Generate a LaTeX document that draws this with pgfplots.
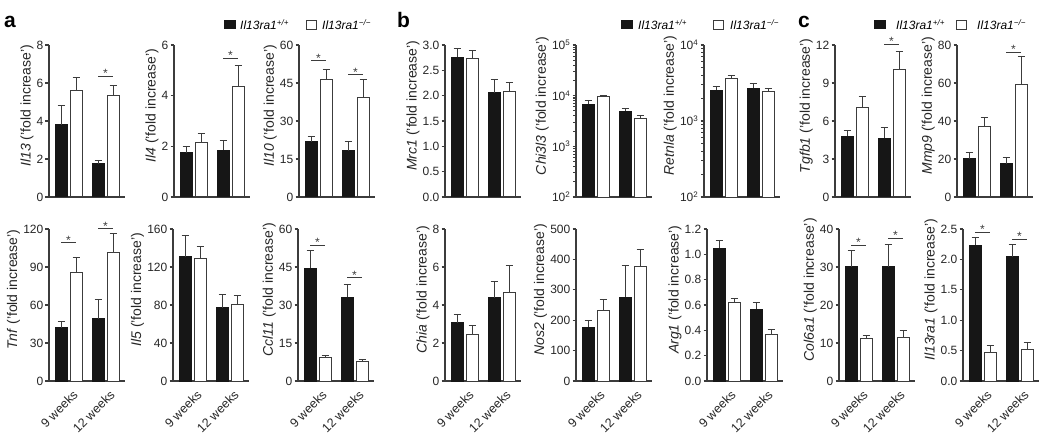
\documentclass[border=0pt]{standalone}
\usepackage{fontspec}
\setmainfont{Liberation Sans}
\usepackage{pgfplots}
\pgfplotsset{compat=1.18}
\definecolor{axgray}{HTML}{3C3C3C}
\definecolor{barblack}{HTML}{161616}
\newcommand{\tk}{\fontsize{12}{14}\selectfont}
\newcommand{\lb}{\fontsize{14}{16}\selectfont}
\pgfplotsset{
  panel/.style={
    scale only axis, width=76pt, height=152pt,
    xmin=0, xmax=76, ymin=0,
    anchor=south west,
    axis x line*=bottom, axis y line*=left,
    axis line style={draw=axgray, line width=1.1pt},
    tick style={draw=axgray, line width=1.1pt},
    tick align=outside, major tick length=3.5pt,
    xtick=\empty, clip=false,
    tick label style={font=\tk, text=black!85},
    /pgf/number format/assume math mode=true,
    yticklabel style={inner xsep=2pt},
    ylabel style={font=\lb, text=black!85, at={(ticklabel cs:0.6)}, inner sep=1pt},
  },
  weeks/.style={xtick={19.5,56.5}, xticklabels={9 weeks,12 weeks},
    x tick label style={rotate=45, anchor=north east, font=\fontsize{12.5}{14}\selectfont, inner sep=1pt, yshift=-5pt},
    xtick style={draw=none}},
  dec/.style={yticklabel style={/pgf/number format/.cd, fixed, fixed zerofill, precision=1}},
  bars/.style={ybar, bar width=12, bar shift=0pt, line width=1pt,
    error bars/y dir=plus, error bars/y explicit,
    error bars/error bar style={line width=1pt, draw=axgray},
    error bars/error mark options={rotate=90, line width=1pt, mark size=3.5pt, draw=axgray}},
  wt/.style={bars, fill=barblack, draw=barblack},
  ko/.style={bars, fill=white, draw=axgray},
}
\newcommand{\sig}[3]{\draw[line width=1pt, axgray] (axis cs:#1,#3) -- (axis cs:#2,#3) node[midway, above, inner sep=0pt, yshift=-2pt, font=\tk] {*};}
\newcommand{\sigA}[1]{\sig{12}{27}{#1}}
\newcommand{\sigB}[1]{\sig{49}{64}{#1}}
\newcommand{\fold}{ ('fold increase')}
\begin{document}
\begin{tikzpicture}
\path[use as bounding box] (0,0) rectangle (1050pt,-438pt);
% panel letters
\node[anchor=base west, inner sep=0pt, font=\fontsize{21}{24}\selectfont\bfseries] at (4pt,-28pt) {a};
\node[anchor=base west, inner sep=0pt, font=\fontsize{21}{24}\selectfont\bfseries] at (397pt,-28pt) {b};
\node[anchor=base west, inner sep=0pt, font=\fontsize{21}{24}\selectfont\bfseries] at (798pt,-28pt) {c};
% legends
\newcommand{\legpair}[4]{%
  \fill[barblack] (#1pt,-20pt) rectangle ++(11.5pt,-9.5pt);
  \node[anchor=base west, inner sep=0pt, font=\tk] at (#2pt,-30pt) {\textit{Il13ra1\textsuperscript{+/+}}};
  \draw[axgray, line width=1pt] (#3pt,-20.5pt) rectangle ++(10.5pt,-9pt);
  \node[anchor=base west, inner sep=0pt, font=\tk] at (#4pt,-30pt) {\textit{Il13ra1\textsuperscript{−/−}}};}
\legpair{224}{240}{306}{322}
\legpair{621}{638}{713}{730}
\legpair{874}{896}{956}{977}

% ===== Row 1 =====
\begin{axis}[panel, at={(49pt,-197pt)}, ymax=8, ytick={0,2,4,6,8}, ylabel={\textit{Il13}\fold}]
\addplot[wt] coordinates {(12,3.81) +- (0,1.02) (49,1.76) +- (0,0.17)};
\addplot[ko] coordinates {(27,5.62) +- (0,0.67) (64,5.33) +- (0,0.52)};
\sigB{6.36}
\end{axis}
\begin{axis}[panel, at={(174pt,-197pt)}, ymax=6, ytick={0,2,4,6}, ylabel={\textit{Il4}\fold}]
\addplot[wt] coordinates {(12,1.74) +- (0,0.26) (49,1.85) +- (0,0.37)};
\addplot[ko] coordinates {(27,2.16) +- (0,0.34) (64,4.38) +- (0,0.80)};
\sigB{5.47}
\end{axis}
\begin{axis}[panel, at={(299pt,-197pt)}, ymax=60, ytick={0,15,30,45,60}, ylabel={\textit{Il10}\fold}]
\addplot[wt] coordinates {(12,21.9) +- (0,1.8) (49,18.2) +- (0,3.9)};
\addplot[ko] coordinates {(27,46.2) +- (0,4.3) (64,39.2) +- (0,7.0)};
\sigA{53.7}
\sigB{48.2}
\end{axis}
\begin{axis}[panel, dec, at={(445pt,-197pt)}, ymax=3, ytick={0,0.5,1,1.5,2,2.5,3}, ylabel={\textit{Mrc1}\fold}]
\addplot[wt] coordinates {(12,2.76) +- (0,0.17) (49,2.06) +- (0,0.25)};
\addplot[ko] coordinates {(27,2.74) +- (0,0.16) (64,2.08) +- (0,0.18)};
\end{axis}
\begin{axis}[panel, at={(576pt,-197pt)}, ymode=log, ymin=100, ymax=100000, clip=true,
  ytick={100,1000,10000,100000}, yticklabels={10\textsuperscript{2},10\textsuperscript{3},10\textsuperscript{4},10\textsuperscript{5}},
  minor ytick={}, ylabel={\textit{Chi3l3}\fold}]
\addplot[wt] coordinates {(12,6800) +- (0,1100) (49,4960) +- (0,640)};
\addplot[ko] coordinates {(27,9500) +- (0,700) (64,3600) +- (0,470)};
\end{axis}
\begin{axis}[panel, at={(704pt,-197pt)}, ymode=log, ymin=100, ymax=10000, clip=true,
  ytick={100,1000,10000}, yticklabels={10\textsuperscript{2},10\textsuperscript{3},10\textsuperscript{4}},
  minor ytick={}, ylabel={\textit{Retnla}\fold}]
\addplot[wt] coordinates {(12,2540) +- (0,340) (49,2690) +- (0,470)};
\addplot[ko] coordinates {(27,3570) +- (0,380) (64,2430) +- (0,260)};
\end{axis}
\begin{axis}[panel, at={(835pt,-197pt)}, ymax=12, ytick={0,3,6,9,12}, ylabel={\textit{Tgfb1}\fold}]
\addplot[wt] coordinates {(12,4.80) +- (0,0.48) (49,4.62) +- (0,0.89)};
\addplot[ko] coordinates {(27,7.04) +- (0,0.92) (64,10.08) +- (0,1.42)};
\sigB{12.06}
\end{axis}
\begin{axis}[panel, at={(957pt,-197pt)}, ymax=80, ytick={0,20,40,60,80}, ylabel={\textit{Mmp9}\fold}]
\addplot[wt] coordinates {(12,20.2) +- (0,3.4) (49,17.6) +- (0,3.3)};
\addplot[ko] coordinates {(27,37.3) +- (0,4.7) (64,59.2) +- (0,14.5)};
\sigB{76.3}
\end{axis}

% ===== Row 2 =====
\begin{axis}[panel, weeks, at={(49pt,-381pt)}, ymax=120, ytick={0,30,60,90,120}, ylabel={\textit{Tnf}\fold}]
\addplot[wt] coordinates {(12,42.0) +- (0,5.0) (49,49.3) +- (0,14.7)};
\addplot[ko] coordinates {(27,85.5) +- (0,12.0) (64,101.6) +- (0,14.8)};
\sigA{109}
\sigB{120}
\end{axis}
\begin{axis}[panel, weeks, at={(173pt,-381pt)}, ymax=160, ytick={0,40,80,120,160}, ylabel={\textit{Il5}\fold}]
\addplot[wt] coordinates {(12,131.0) +- (0,22.5) (49,77.3) +- (0,13.5)};
\addplot[ko] coordinates {(27,128.7) +- (0,13.3) (64,80.1) +- (0,9.6)};
\end{axis}
\begin{axis}[panel, weeks, at={(298pt,-381pt)}, ymax=60, ytick={0,15,30,45,60}, ylabel={\textit{Ccl11}\fold}]
\addplot[wt] coordinates {(12,44.5) +- (0,7.0) (49,33.0) +- (0,4.9)};
\addplot[ko] coordinates {(27,9.3) +- (0,0.8) (64,7.8) +- (0,0.7)};
\sigA{53.6}
\sigB{40.7}
\end{axis}
\begin{axis}[panel, weeks, at={(445pt,-381pt)}, ymax=8, ytick={0,2,4,6,8}, ylabel={\textit{Chia}\fold}]
\addplot[wt] coordinates {(12,3.06) +- (0,0.44) (49,4.38) +- (0,0.87)};
\addplot[ko] coordinates {(27,2.46) +- (0,0.44) (64,4.67) +- (0,1.43)};
\end{axis}
\begin{axis}[panel, weeks, at={(576pt,-381pt)}, ymax=500, ytick={0,100,200,300,400,500}, ylabel={\textit{Nos2}\fold}]
\addplot[wt] coordinates {(12,177) +- (0,23) (49,275) +- (0,106)};
\addplot[ko] coordinates {(27,233) +- (0,36) (64,376) +- (0,55)};
\end{axis}
\begin{axis}[panel, weeks, dec, at={(707pt,-381pt)}, ymax=1.2, ytick={0,0.2,0.4,0.6,0.8,1,1.2}, ylabel={\textit{Arg1}\fold}]
\addplot[wt] coordinates {(12,1.047) +- (0,0.063) (49,0.566) +- (0,0.052)};
\addplot[ko] coordinates {(27,0.618) +- (0,0.035) (64,0.368) +- (0,0.040)};
\end{axis}
\begin{axis}[panel, weeks, at={(839pt,-381pt)}, ymax=40, ytick={0,10,20,30,40}, ylabel={\textit{Col6a1}\fold}]
\addplot[wt] coordinates {(12,30.1) +- (0,4.2) (49,30.1) +- (0,5.9)};
\addplot[ko] coordinates {(27,11.06) +- (0,0.84) (64,11.5) +- (0,1.8)};
\sigA{35.7}
\sigB{37.6}
\end{axis}
\begin{axis}[panel, weeks, dec, at={(963pt,-381pt)}, ymax=2.5, ytick={0,0.5,1,1.5,2,2.5}, ylabel={\textit{Il13ra1}\fold}]
\addplot[wt] coordinates {(12,2.235) +- (0,0.125) (49,2.04) +- (0,0.20)};
\addplot[ko] coordinates {(27,0.47) +- (0,0.115) (64,0.513) +- (0,0.122)};
\sigA{2.445}
\sigB{2.33}
\end{axis}
\end{tikzpicture}
\end{document}
